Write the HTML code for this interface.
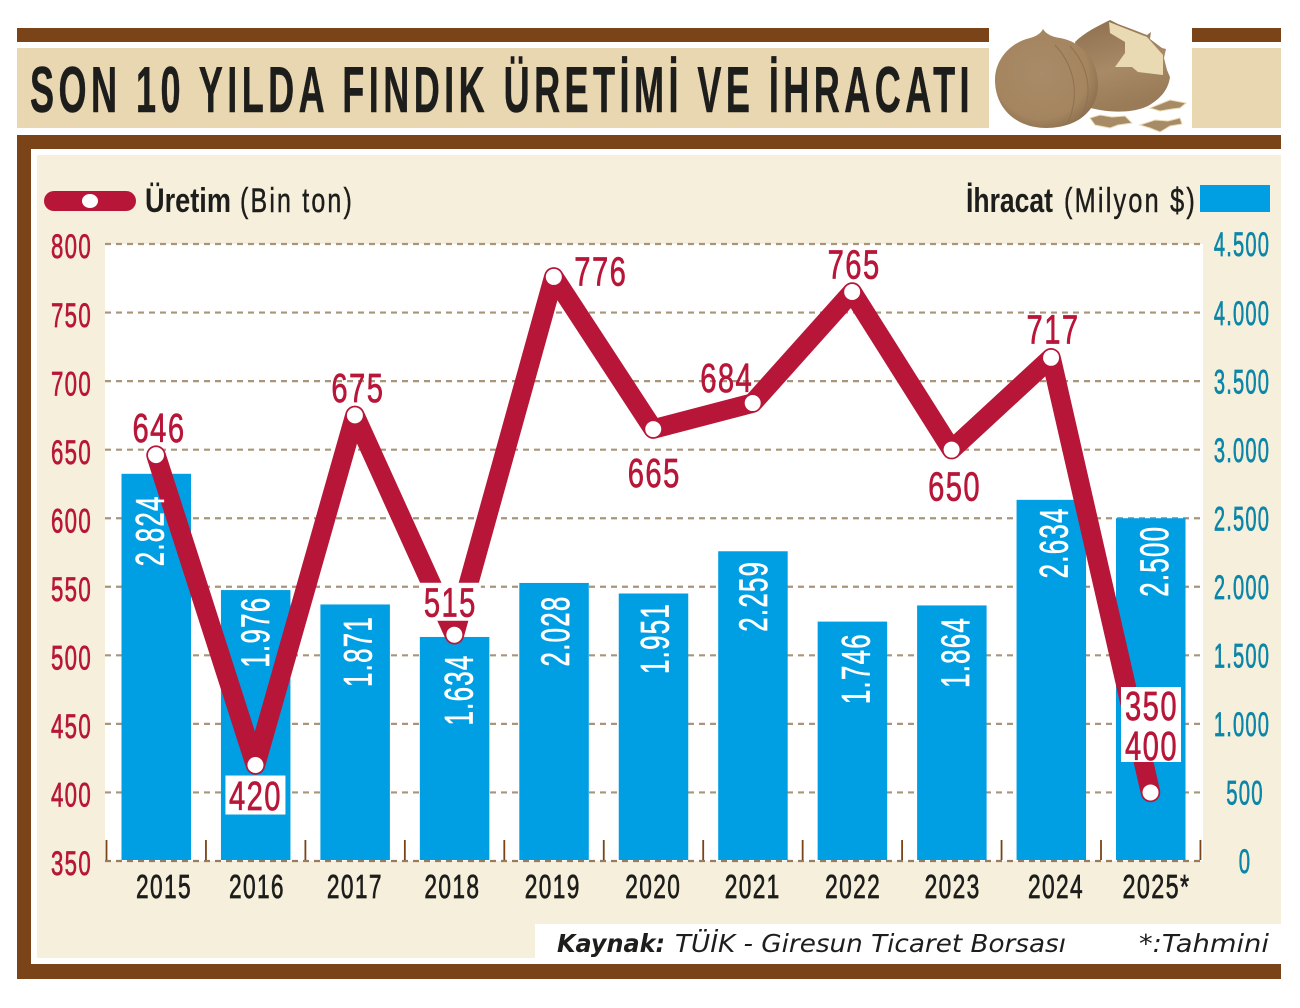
<!DOCTYPE html>
<html lang="tr">
<head>
<meta charset="utf-8">
<title>Son 10 Yılda Fındık Üretimi ve İhracatı</title>
<style>
html,body{margin:0;padding:0;background:#fff;}
svg{display:block;font-family:"Liberation Sans",sans-serif;}
</style>
</head>
<body>
<svg id="chart" xmlns="http://www.w3.org/2000/svg" width="1300" height="1008" viewBox="0 0 1300 1008">
  <defs>
    <radialGradient id="nutLeft" cx="45%" cy="45%" r="65%">
      <stop offset="0%" stop-color="#a98b69"/>
      <stop offset="70%" stop-color="#a4855f"/>
      <stop offset="100%" stop-color="#85684a"/>
    </radialGradient>
    <linearGradient id="nutRight" x1="0" y1="0" x2="0.3" y2="1">
      <stop offset="0%" stop-color="#8d6e4f"/>
      <stop offset="60%" stop-color="#a88a66"/>
      <stop offset="100%" stop-color="#9a7b58"/>
    </linearGradient>
  </defs>
  <rect x="0" y="0" width="1300" height="1008" fill="#ffffff"/>
  <rect x="17" y="28" width="972" height="14" fill="#7a4418"/>
  <rect x="1192" y="28" width="89" height="14" fill="#7a4418"/>
  <rect x="17" y="48" width="972" height="80" fill="#e9d7b1"/>
  <rect x="1192" y="48" width="89" height="80" fill="#e9d7b1"/>
  <text x="30" y="112" font-size="65" font-weight="700" fill="#1d1d1b" stroke="#1d1d1b" stroke-width="0.5" letter-spacing="8" textLength="944" lengthAdjust="spacingAndGlyphs">SON 10 YILDA FINDIK ÜRETİMİ VE İHRACATI</text>

  <g>
    <path d="M1075 42 C1085 32 1098 26 1110 20 L1118 24 L1134 30 L1147 35 L1151 32 L1150 39 L1162 48 L1166 49 L1164 58 L1167 70 L1170 77 C1168 92 1158 100 1148 106 C1135 112 1118 113 1100 110 L1090 108 Z" fill="url(#nutRight)"/>
    <path d="M1109 22 L1147 37 L1163 55 L1163 75 L1138 72 L1132 67 L1115 67 L1125 53 L1125 42 L1110 33 Z" fill="#eadab4"/>
    <path d="M995 80 C995 58 1012 42 1030 38 C1037 36 1041 33 1043 29 C1046 34 1052 37 1060 38 C1082 42 1098 60 1098 85 C1098 110 1078 128 1046 128 C1016 128 995 108 995 80 Z" fill="url(#nutLeft)"/>
    <path d="M1055 45 C1078 70 1078 100 1068 122" fill="none" stroke="#8f7152" stroke-width="1"/>
    <path d="M1070 46 C1092 70 1092 100 1080 118" fill="none" stroke="#8f7152" stroke-width="1"/>
    <path d="M1150 108 L1160 104 L1170 100 L1186 103 L1180 108 L1172 109 L1160 111 Z" fill="#a78a66" stroke="#eadab4" stroke-width="1"/>
    <path d="M1090 118 L1100 115 L1112 117 L1125 116 L1132 123 L1118 125 L1110 128 L1095 125 Z" fill="#a78a66" stroke="#eadab4" stroke-width="1"/>
    <path d="M1140 125 L1155 120 L1168 121 L1180 118 L1182 124 L1170 126 L1165 129 L1160 132 L1150 128 Z" fill="#a78a66" stroke="#eadab4" stroke-width="1"/>
  </g>

  <rect x="17" y="135" width="1264" height="14" fill="#7a4418"/>
  <rect x="17" y="135" width="14" height="844" fill="#7a4418"/>
  <rect x="17" y="964" width="1264" height="15" fill="#7a4418"/>
  <rect x="37" y="155" width="1244" height="803" fill="#f5efdb"/>
  <rect x="535" y="924" width="746" height="40" fill="#ffffff"/>
  <rect x="105" y="244" width="1098" height="617" fill="#ffffff"/>

  <rect x="44" y="191" width="92" height="20" rx="10" fill="#b81638"/>
  <ellipse cx="90" cy="201" rx="8" ry="7" fill="#ffffff"/>
  <text x="145" y="212" font-size="34" font-weight="700" fill="#1d1d1b" textLength="86" lengthAdjust="spacingAndGlyphs">Üretim</text>
  <text x="240" y="212" font-size="34" fill="#1d1d1b" stroke="#1d1d1b" stroke-width="0.5" letter-spacing="3" textLength="114" lengthAdjust="spacingAndGlyphs">(Bin ton)</text>
  <text x="966" y="212" font-size="34" font-weight="700" fill="#1d1d1b" textLength="87" lengthAdjust="spacingAndGlyphs">İhracat</text>
  <text x="1064" y="212" font-size="34" fill="#1d1d1b" stroke="#1d1d1b" stroke-width="0.5" letter-spacing="3" textLength="133" lengthAdjust="spacingAndGlyphs">(Milyon $)</text>
  <rect x="1200" y="185" width="70" height="27" fill="#009fe3"/>

  <text x="557" y="952" font-family="'DejaVu Sans',sans-serif" font-size="25" font-weight="700" font-style="italic" fill="#1d1d1b" textLength="108" lengthAdjust="spacingAndGlyphs">Kaynak:</text>
  <text x="675" y="952" font-family="'DejaVu Sans',sans-serif" font-size="25" font-style="italic" fill="#1d1d1b" textLength="391" lengthAdjust="spacingAndGlyphs">TÜİK - Giresun Ticaret Borsası</text>
  <text x="1139" y="952" font-family="'DejaVu Sans',sans-serif" font-size="25" font-style="italic" fill="#1d1d1b" textLength="130" lengthAdjust="spacingAndGlyphs">*:Tahmini</text>

  <g id="plot"></g>
</svg>
<script>
var years = ['2015','2016','2017','2018','2019','2020','2021','2022','2023','2024','2025*'];
var exportValues = [2824,1976,1871,1634,2028,1951,2259,1746,1864,2634,2500];
var productionValues = [646,420,675,515,776,665,684,765,650,717,400];
var productionRangeLow = [350];
var leftTicks = [800,750,700,650,600,550,500,450,400,350];
var rightTicks = [4500,4000,3500,3000,2500,2000,1500,1000,500,0];

var NS = 'http://www.w3.org/2000/svg';
var plot = document.getElementById('plot');
var TOP = 244, BOTTOM = 861, RED = '#b81638', BLUE = '#009fe3', TEAL = '#0c86a8';

function xAt(i) { return 156 + 99.45 * i; }
function yLeft(v) { return BOTTOM - (v - 350) / 450 * (BOTTOM - TOP); }
function yRight(v) { return BOTTOM - v / 4500 * (BOTTOM - TOP); }
function dotted(v) { return String(v).replace(/\B(?=(\d{3})+$)/g, '.'); }

function make(tag, name, attrs) {
  var el = document.createElementNS(NS, tag);
  
  
  for (var k in attrs) el.setAttribute(k, attrs[k]);
  plot.appendChild(el);
  return el;
}
function label(str, name, cx, cy, size, width, fill, rotate) {
  var el = make('text', name, {
    x: cx - width / 2, y: cy + size * 0.36, 'font-size': size, fill: fill,
    stroke: fill, 'stroke-width': 0.7, 'letter-spacing': 2,
    textLength: width, lengthAdjust: 'spacingAndGlyphs'
  });
  if (rotate) el.setAttribute('transform', 'rotate(-90 ' + cx + ' ' + cy + ')');
  el.textContent = str;
  return el;
}
function digitWidth(str, unit) {
  var n = 0;
  for (var i = 0; i < str.length; i++) n += str[i] === '.' ? 0.5 : 1;
  return n * unit;
}

leftTicks.forEach(function (t) {
  var y = yLeft(t);
  make('line', 'gridline-' + t, { x1: 105, x2: 1203, y1: y, y2: y, stroke: t === 350 ? '#9a7b5c' : '#a8957a', 'stroke-width': 2.2, 'stroke-dasharray': '6 5' });
  label(String(t), 'left-axis-label-' + t, 71.5, y + 2, 34, 41, RED);
});
rightTicks.forEach(function (t) {
  var s = dotted(t);
  label(s, 'right-axis-label-' + t, t >= 1000 ? 1242 : 1245, yRight(t), 34, digitWidth(s, 12.5), TEAL);
});

var tickCount = years.length + 1;
for (var k = 0; k < tickCount; k++) {
  var tx = xAt(k) - 49.5;
  make('line', 'axis-tick-' + k, { x1: tx, x2: tx, y1: 840, y2: 860, stroke: '#7a4418', 'stroke-width': 1.8 });
}

exportValues.forEach(function (v, i) {
  var top = yRight(v);
  make('rect', 'bar-' + years[i], { x: xAt(i) - 34.5, y: top, width: 69.5, height: BOTTOM - top - 1, fill: BLUE });
});

var yearNudge = [8, 1.5, 0, -2, -1, 0, 0, 1, 1, 5, 6];
years.forEach(function (yr, i) {
  var w = yr.length === 5 ? 68 : 56;
  label(yr, 'x-axis-label-' + yr, xAt(i) + yearNudge[i], 886, 33, w, '#1d1d1b');
});

var linePoints = productionValues.map(function (v, i) { return xAt(i) + ',' + yLeft(v); }).join(' ');
make('polyline', 'production-line', { points: linePoints, fill: 'none', stroke: RED, 'stroke-width': 19.5, 'stroke-linejoin': 'round', 'stroke-linecap': 'round' });

productionValues.forEach(function (v, i) {
  make('circle', 'production-point-' + years[i], { cx: xAt(i), cy: yLeft(v), r: 8, fill: '#ffffff' });
});

var barNudgeX = [-7, -1, 2, 4, 1, 1, 0, 3, 3, 2, 3];
var barNudgeY = [9, -6, -1, 5, 0, -3, -3, -1, -1, -5, -5];
exportValues.forEach(function (v, i) {
  var s = dotted(v);
  label(s, 'bar-value-' + years[i], xAt(i) + barNudgeX[i], yRight(v) + 48 + barNudgeY[i], 40, 71, '#ffffff', true);
});

var labelDx = [3, 0, 3, -4, 47, 1, -26, 2, 3, 2, 0];
var labelDy = [-28, 30, -28, -33, -6, 43, -26, -28, 36, -29, -47];
var boxed = { 1: [60, 39], 3: [61, 38] };
productionValues.forEach(function (v, i) {
  var cx = xAt(i) + labelDx[i];
  var cy = yLeft(v) + labelDy[i];
  if (i === productionValues.length - 1) {
    make('rect', 'estimate-range-box', { x: 1121, y: 687, width: 60, height: 75, fill: '#ffffff' });
    label(String(productionRangeLow[0]), 'estimate-range-low', cx + 1, cy - 40, 41, 53, RED);
    label(String(v), 'production-value-' + years[i], cx + 1, cy, 41, 53, RED);
    return;
  }
  if (boxed[i]) {
    make('rect', 'production-value-box-' + years[i], { x: cx - boxed[i][0] / 2, y: cy - boxed[i][1] / 2, width: boxed[i][0], height: boxed[i][1], fill: '#ffffff' });
  }
  label(String(v), 'production-value-' + years[i], cx, cy, 41, 53, RED);
});
</script>
</body>
</html>
